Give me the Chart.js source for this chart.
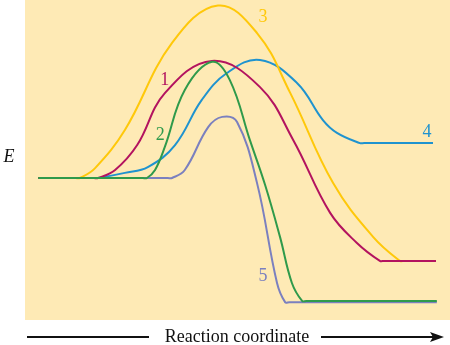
<!DOCTYPE html>
<html>
<head>
<meta charset="utf-8">
<script src="https://cdn.jsdelivr.net/npm/chart.js@4/dist/chart.umd.min.js"></script>
<style>
  body { margin: 0; background: #fff; }
  .wrap { width: 450px; height: 345px; position: relative; }
</style>
</head>
<body>
<div class="wrap"><canvas id="energyChart"></canvas></div>
<script>
// Reaction coordinate (x) and energy (E, reactants = 0)
const path1X = [0.31, 1.62, 1.72, 2.12, 2.64, 3.29, 4.40, 5.53, 6.31, 7.18, 7.81, 8.35, 8.45, 9.67];
const path1E = [0, 0, 0, 0.25, 1.03, 2.65, 3.66, 2.84, 1.19, -1.09, -2.03, -2.59, -2.59, -2.59];

const path2X = [0.31, 2.77, 2.87, 3.06, 3.29, 3.76, 4.40, 4.82, 5.29, 5.65, 6.00, 6.28, 6.52, 6.62, 9.69];
const path2E = [0, 0, 0, 0.25, 0.97, 2.75, 3.63, 3.06, 1.19, -0.22, -1.84, -3.28, -3.84, -3.84, -3.84];

const path3X = [0.31, 1.19, 1.29, 1.65, 2.35, 3.46, 4.54, 5.46, 6.24, 7.25, 8.19, 8.82, 8.92, 9.67];
const path3E = [0, 0, 0, 0.31, 1.50, 4.22, 5.39, 4.53, 2.66, -0.16, -1.84, -2.59, -2.59, -2.59];

const path4X = [0.31, 1.62, 1.72, 2.35, 2.89, 3.53, 4.16, 4.75, 5.53, 6.40, 7.01, 7.34, 7.88, 7.98, 9.60];
const path4E = [0, 0, 0, 0.16, 0.34, 1.03, 2.44, 3.28, 3.69, 2.97, 1.81, 1.41, 1.09, 1.09, 1.09];

const path5X = [0.31, 3.36, 3.46, 3.76, 4.31, 4.64, 4.99, 5.46, 5.93, 6.12, 6.22, 9.69];
const path5E = [0, 0, 0, 0.25, 1.59, 1.91, 1.75, -0.16, -3.28, -3.88, -3.88, -3.88];

// Curve numbers and where they sit (x, E)
const pathLabels = ['1', '2', '3', '4', '5'];
const labelX = [3.29, 3.18, 5.60, 9.46, 5.60];
const labelE = [3.06, 1.34, 5.03, 1.44, -3.06];

const colors = ['#b3135f', '#2f9a4b', '#ffc80a', '#1f93cf', '#7b80bf'];

function toPoints(xs, es) {
    return xs.map((x, i) => ({ x: x, y: es[i] }));
}

// Fill the plot area and draw the labels, E and the arrow
const decorPlugin = {
    id: 'decor',
    beforeDraw(chart) {
        const { ctx, chartArea } = chart;
        ctx.save();
        ctx.fillStyle = '#feeab5';
        ctx.fillRect(chartArea.left, chartArea.top, chartArea.right - chartArea.left, chartArea.bottom - chartArea.top);
        ctx.restore();
    },
    afterDraw(chart) {
        const { ctx, chartArea, scales } = chart;
        const xs = scales.x, ys = scales.y;
        ctx.save();
        ctx.textAlign = 'center';
        ctx.textBaseline = 'middle';
        ctx.font = '18px "Liberation Serif", "Times New Roman", serif';
        pathLabels.forEach((t, i) => {
            ctx.fillStyle = colors[i];
            ctx.fillText(t, xs.getPixelForValue(labelX[i]), ys.getPixelForValue(labelE[i]));
        });

        // axis letter
        ctx.fillStyle = '#111';
        ctx.font = 'italic 18px "Liberation Serif", "Times New Roman", serif';
        ctx.fillText('E', chartArea.left - 16, ys.getPixelForValue(0.66));

        // reaction coordinate arrow
        const y = chartArea.bottom + 17;
        ctx.font = '18px "Liberation Serif", "Times New Roman", serif';
        ctx.fillText('Reaction coordinate', 237, y);
        ctx.strokeStyle = '#111';
        ctx.lineWidth = 2;
        ctx.beginPath();
        ctx.moveTo(27, y);
        ctx.lineTo(149, y);
        ctx.moveTo(321, y);
        ctx.lineTo(434, y);
        ctx.stroke();
        ctx.fillStyle = '#111';
        ctx.beginPath();
        ctx.moveTo(444, y);
        ctx.lineTo(430, y - 5);
        ctx.lineTo(433, y);
        ctx.lineTo(430, y + 5);
        ctx.closePath();
        ctx.fill();
        ctx.restore();
    }
};

const series = [
    { label: '1', data: toPoints(path1X, path1E), order: 2 },
    { label: '2', data: toPoints(path2X, path2E), order: 1 },
    { label: '3', data: toPoints(path3X, path3E), order: 3 },
    { label: '4', data: toPoints(path4X, path4E), order: 4 },
    { label: '5', data: toPoints(path5X, path5E), order: 5 }
];

new Chart(document.getElementById('energyChart'), {
    type: 'line',
    data: {
        datasets: series.map((s, i) => ({
            label: s.label,
            data: s.data,
            order: s.order,
            borderColor: colors[i],
            borderWidth: 2,
            pointRadius: 0,
            fill: false,
            tension: 0.4
        }))
    },
    options: {
        responsive: true,
        maintainAspectRatio: false,
        animation: false,
        layout: { padding: { left: 25, right: 0, top: 0, bottom: 25 } },
        plugins: { legend: { display: false }, tooltip: { enabled: false } },
        scales: {
            x: { type: 'linear', min: 0, max: 10, display: false },
            y: { type: 'linear', min: -4.4375, max: 5.5625, display: false }
        }
    },
    plugins: [decorPlugin]
});
</script>
</body>
</html>
